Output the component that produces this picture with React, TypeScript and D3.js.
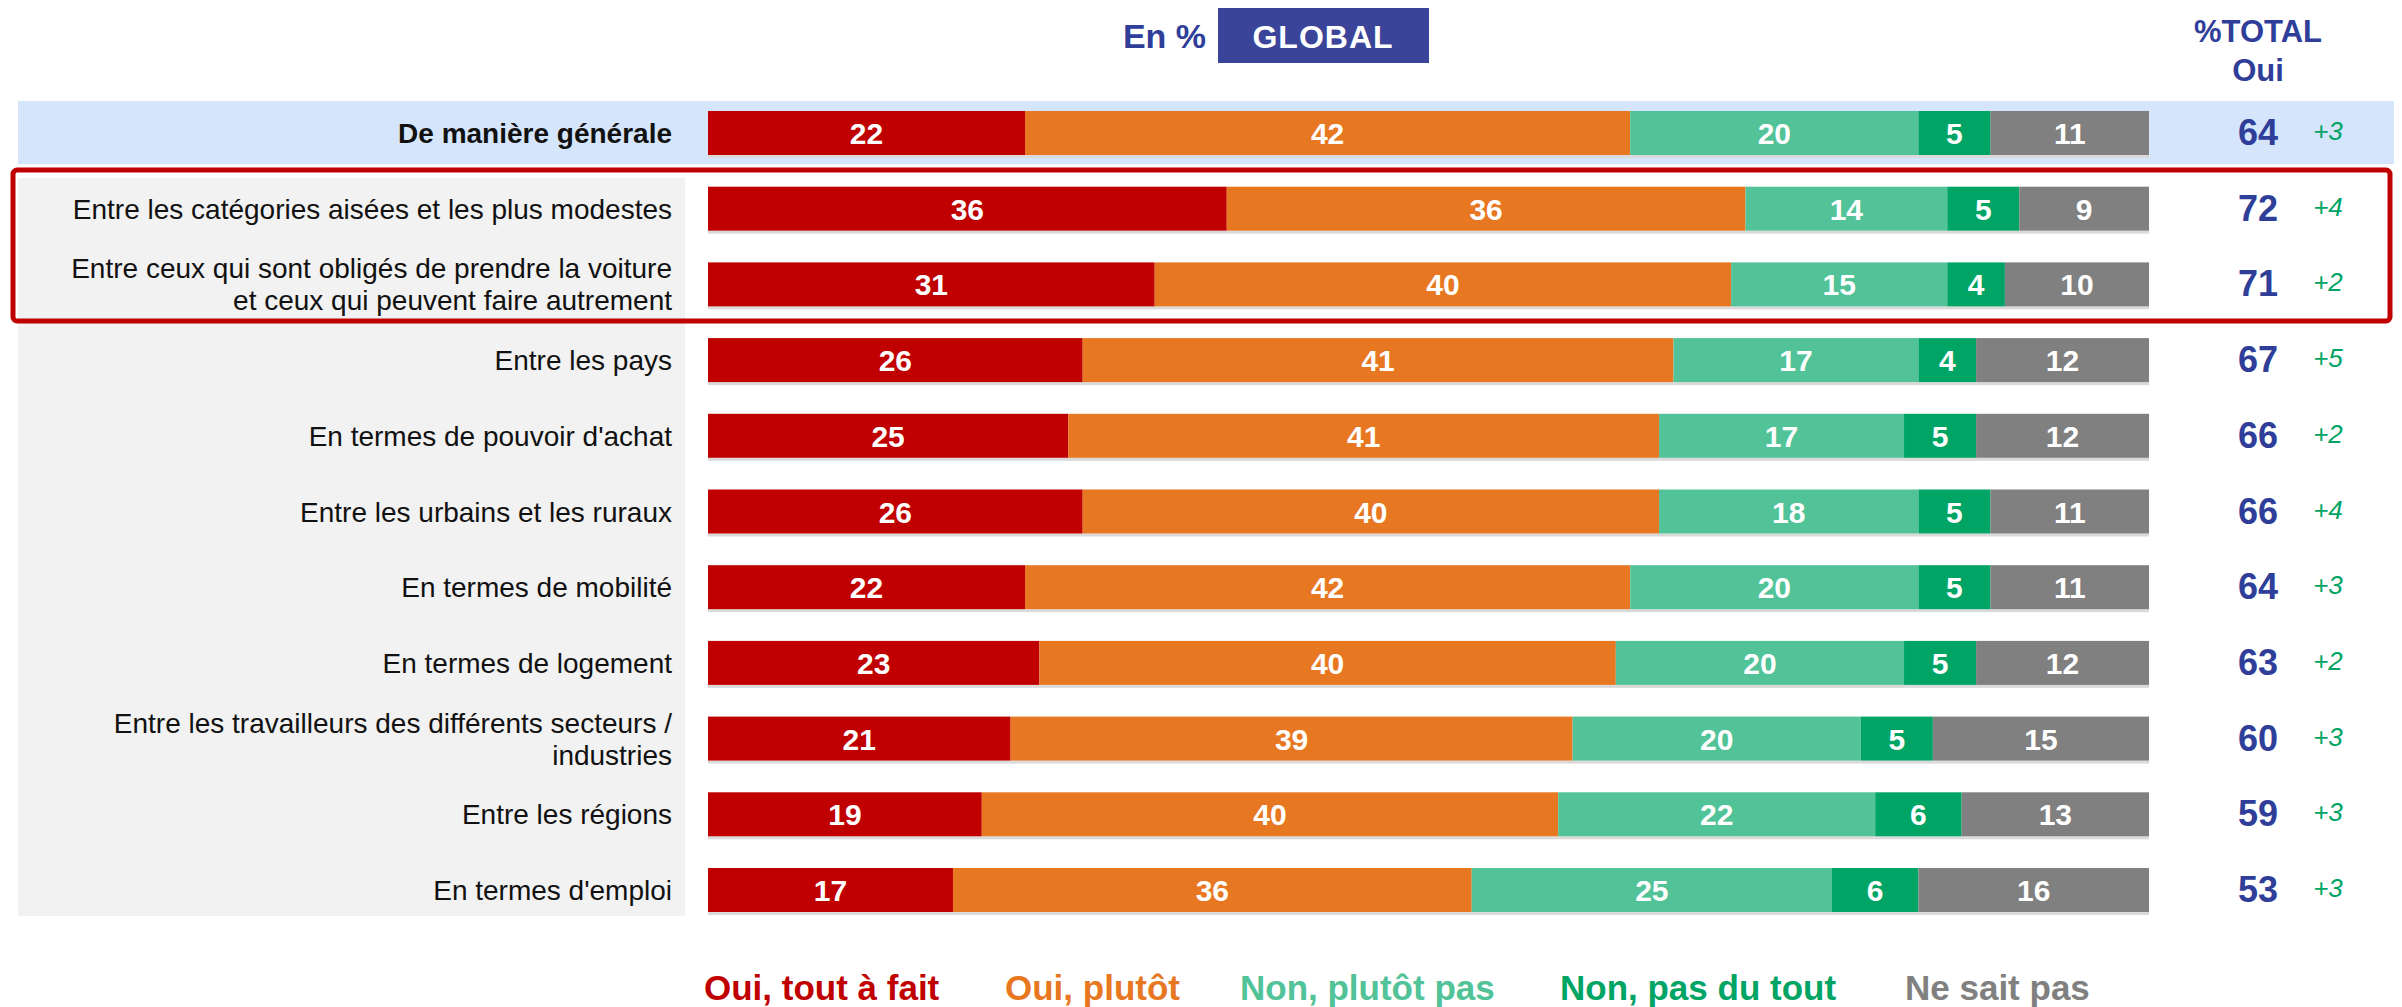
import * as d3 from 'd3';
import React from 'react';

// categories (line breaks as in the original)
const categories = [
  'De manière générale',
  'Entre les catégories aisées et les plus modestes',
  'Entre ceux qui sont obligés de prendre la voiture\net ceux qui peuvent faire autrement',
  'Entre les pays',
  "En termes de pouvoir d'achat",
  'Entre les urbains et les ruraux',
  'En termes de mobilité',
  'En termes de logement',
  'Entre les travailleurs des différents secteurs /\nindustries',
  'Entre les régions',
  "En termes d'emploi",
];

const seriesNames = ['Oui, tout à fait', 'Oui, plutôt', 'Non, plutôt pas', 'Non, pas du tout', 'Ne sait pas'];
const toutAFait = [22, 36, 31, 26, 25, 26, 22, 23, 21, 19, 17];
const plutot = [42, 36, 40, 41, 41, 40, 42, 40, 39, 40, 36];
const plutotPas = [20, 14, 15, 17, 17, 18, 20, 20, 20, 22, 25];
const pasDuTout = [5, 5, 4, 4, 5, 5, 5, 5, 5, 6, 6];
const nsp = [11, 9, 10, 12, 12, 11, 11, 12, 15, 13, 16];
const totalOui = [64, 72, 71, 67, 66, 66, 64, 63, 60, 59, 53];
const evolution = ['+3', '+4', '+2', '+5', '+2', '+4', '+3', '+2', '+3', '+3', '+3'];

const colors = ['#C00000', '#E87722', '#52C398', '#00A465', '#808080'];
const blue = '#2F3E99';
const font = '"Liberation Sans", Arial, sans-serif';

// layout (page coordinates)
const barLeft = 708;
const barRight = 2149;
const firstRow = 133;
const rowStep = 75.7;
const barH = 44;
const legendX = [704, 1005, 1240, 1560, 1905];

export default function App() {
  const series = [toutAFait, plutot, plutotPas, pasDuTout, nsp];
  const rows = categories.map((c, i) => {
    const o: any = { cat: c };
    seriesNames.forEach((s, k) => (o[s] = series[k][i]));
    return o;
  });
  const stacked = d3.stack().keys(seriesNames)(rows);

  const x = d3.scaleLinear().domain([0, 100]).range([barLeft, barRight]);
  const y = d3
    .scaleBand()
    .domain(categories)
    .range([firstRow - rowStep / 2, firstRow - rowStep / 2 + rowStep * categories.length])
    .paddingInner(1 - barH / rowStep)
    .paddingOuter((1 - barH / rowStep) / 2);

  return (
    <svg width={2394} height={999} style={{ display: 'block' }}>
      <g transform="translate(-8,-8)">
        {/* header */}
        <text x={1206} y={48} textAnchor="end" fill={blue} fontFamily={font} fontWeight="bold" fontSize={34}>
          En %
        </text>
        <rect x={1218} y={6} width={211} height={57} fill="#3A4599" />
        <text x={1323} y={48} textAnchor="middle" fill="#fff" fontFamily={font} fontWeight="bold" fontSize={32} letterSpacing={1}>
          GLOBAL
        </text>
        <text x={2258} y={42} textAnchor="middle" fill={blue} fontFamily={font} fontWeight="bold" fontSize={31}>
          %TOTAL
        </text>
        <text x={2258} y={81} textAnchor="middle" fill={blue} fontFamily={font} fontWeight="bold" fontSize={31}>
          Oui
        </text>

        {/* background bands */}
        <rect x={18} y={101} width={2376} height={63} fill="#D5E5FB" />
        <rect x={18} y={178} width={667} height={738} fill="#F2F2F2" />

        {/* labels */}
        {categories.map((c, i) => {
          const lines = c.split('\n');
          const cy = y(c)! + y.bandwidth() / 2;
          return (
            <text
              key={c}
              textAnchor="end"
              fontFamily={font}
              fontSize={28}
              fontWeight={i === 0 ? 'bold' : 'normal'}
              fill="#111"
            >
              {lines.map((l, j) => (
                <tspan key={j} x={672} y={cy + 10 + (j - (lines.length - 1) / 2) * 32}>
                  {l}
                </tspan>
              ))}
            </text>
          );
        })}

        {/* bar shadow */}
        {categories.map((c) => (
          <rect key={c} x={x(0)} y={y(c)! + y.bandwidth()} width={x(100) - x(0)} height={3} fill="#DADADA" />
        ))}

        {/* stacked bars */}
        {stacked.map((s, k) => (
          <g key={s.key} fill={colors[k]}>
            {s.map((d, i) => (
              <rect
                key={i}
                x={x(d[0])}
                y={y(categories[i])}
                width={x(d[1]) - x(d[0])}
                height={y.bandwidth()}
              />
            ))}
          </g>
        ))}
        {stacked.map((s) =>
          s.map((d, i) => (
            <text
              key={s.key + i}
              x={(x(d[0]) + x(d[1])) / 2}
              y={y(categories[i])! + y.bandwidth() / 2 + 11}
              textAnchor="middle"
              fill="#fff"
              fontFamily={font}
              fontWeight="bold"
              fontSize={30}
            >
              {d[1] - d[0]}
            </text>
          ))
        )}

        {/* totals */}
        {categories.map((c, i) => (
          <g key={c}>
            <text
              x={2258}
              y={y(c)! + y.bandwidth() / 2 + 12}
              textAnchor="middle"
              fill={blue}
              fontFamily={font}
              fontWeight="bold"
              fontSize={36}
            >
              {totalOui[i]}
            </text>
            <text
              x={2328}
              y={y(c)! + y.bandwidth() / 2 + 7}
              textAnchor="middle"
              fill="#00A465"
              fontFamily={font}
              fontStyle="italic"
              fontSize={26}
            >
              {evolution[i]}
            </text>
          </g>
        ))}

        {/* highlight box */}
        <rect x={13} y={170} width={2377} height={151} rx={4} fill="none" stroke="#C00000" strokeWidth={5} />

        {/* legend */}
        {seriesNames.map((s, k) => (
          <text key={s} x={legendX[k]} y={1000} fill={colors[k]} fontFamily={font} fontWeight="bold" fontSize={35}>
            {s}
          </text>
        ))}
      </g>
    </svg>
  );
}
